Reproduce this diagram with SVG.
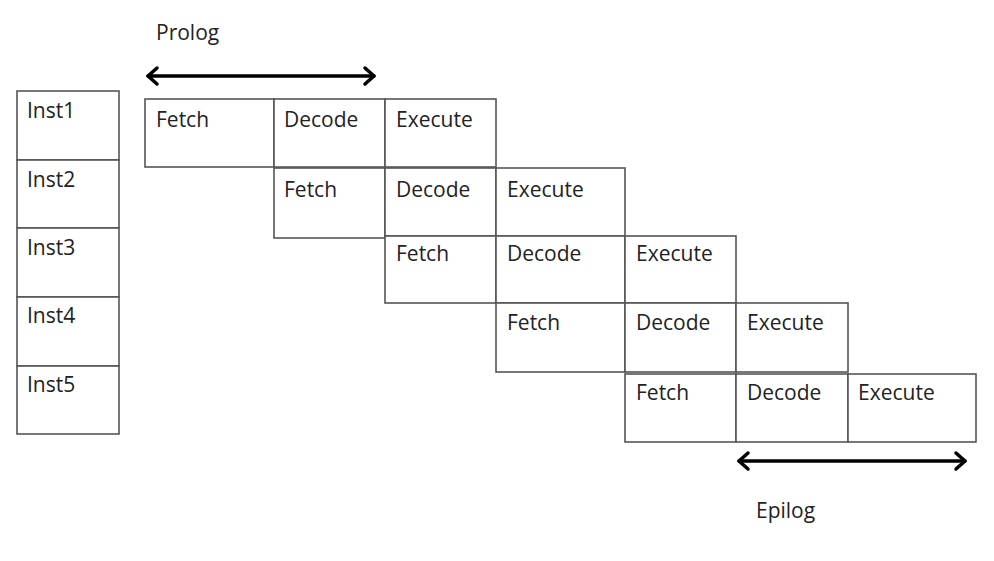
<svg xmlns="http://www.w3.org/2000/svg" width="994" height="561" viewBox="0 0 994 561">
<style>
.c{fill:#fff;stroke:#555;stroke-width:1.6}
.t{font-family:"Open Sans","Noto Sans",sans-serif;font-size:21px;fill:#222}
.a{fill:none;stroke:#000;stroke-width:3.5;stroke-linecap:round;stroke-linejoin:round}
</style>
<rect width="994" height="561" fill="#fff"/>
<g id="inst">
<g id="inst1"><rect class="c" x="17" y="91" width="102" height="69"/><text class="t" x="27" y="118">Inst1</text></g>
<g id="inst2"><rect class="c" x="17" y="160" width="102" height="68"/><text class="t" x="27" y="187">Inst2</text></g>
<g id="inst3"><rect class="c" x="17" y="228" width="102" height="69"/><text class="t" x="27" y="255">Inst3</text></g>
<g id="inst4"><rect class="c" x="17" y="297" width="102" height="69"/><text class="t" x="27" y="323">Inst4</text></g>
<g id="inst5"><rect class="c" x="17" y="366" width="102" height="68"/><text class="t" x="27" y="392">Inst5</text></g>
</g>
<g id="row1">
<g id="r1-fetch"><rect class="c" x="145" y="99" width="129" height="68"/><text class="t" x="156" y="127">Fetch</text></g>
<g id="r1-decode"><rect class="c" x="274" y="99" width="111" height="68"/><text class="t" x="284" y="127">Decode</text></g>
<g id="r1-execute"><rect class="c" x="385" y="99" width="111" height="68"/><text class="t" x="396" y="127">Execute</text></g>
</g>
<g id="row2">
<g id="r2-fetch"><rect class="c" x="274" y="168" width="111" height="70"/><text class="t" x="284" y="197">Fetch</text></g>
<g id="r2-decode"><rect class="c" x="385" y="168" width="111" height="68"/><text class="t" x="396" y="197">Decode</text></g>
<g id="r2-execute"><rect class="c" x="496" y="168" width="129" height="68"/><text class="t" x="507" y="197">Execute</text></g>
</g>
<g id="row3">
<g id="r3-fetch"><rect class="c" x="385" y="236" width="111" height="67"/><text class="t" x="396" y="261">Fetch</text></g>
<g id="r3-decode"><rect class="c" x="496" y="236" width="129" height="67"/><text class="t" x="507" y="261">Decode</text></g>
<g id="r3-execute"><rect class="c" x="625" y="236" width="111" height="67"/><text class="t" x="636" y="261">Execute</text></g>
</g>
<g id="row4">
<g id="r4-fetch"><rect class="c" x="496" y="303" width="129" height="69"/><text class="t" x="507" y="330">Fetch</text></g>
<g id="r4-decode"><rect class="c" x="625" y="303" width="111" height="69"/><text class="t" x="636" y="330">Decode</text></g>
<g id="r4-execute"><rect class="c" x="736" y="303" width="112" height="69"/><text class="t" x="747" y="330">Execute</text></g>
</g>
<g id="row5">
<g id="r5-fetch"><rect class="c" x="625" y="374" width="111" height="68"/><text class="t" x="636" y="400">Fetch</text></g>
<g id="r5-decode"><rect class="c" x="736" y="374" width="112" height="68"/><text class="t" x="747" y="400">Decode</text></g>
<g id="r5-execute"><rect class="c" x="848" y="374" width="128" height="68"/><text class="t" x="858" y="400">Execute</text></g>
</g>
<g id="connectors">
<g id="prolog-arrow"><line class="a" x1="148" y1="76" x2="374" y2="76"/><polyline class="a" points="157,68 148,76 157,84"/><polyline class="a" points="365,68 374,76 365,84"/></g>
<g id="epilog-arrow"><line class="a" x1="739" y1="461" x2="965" y2="461"/><polyline class="a" points="748,453 739,461 748,469"/><polyline class="a" points="956,453 965,461 956,469"/></g>
</g>
<text id="prolog" class="t" x="156" y="40">Prolog</text>
<text id="epilog" class="t" x="756" y="518">Epilog</text>
</svg>
